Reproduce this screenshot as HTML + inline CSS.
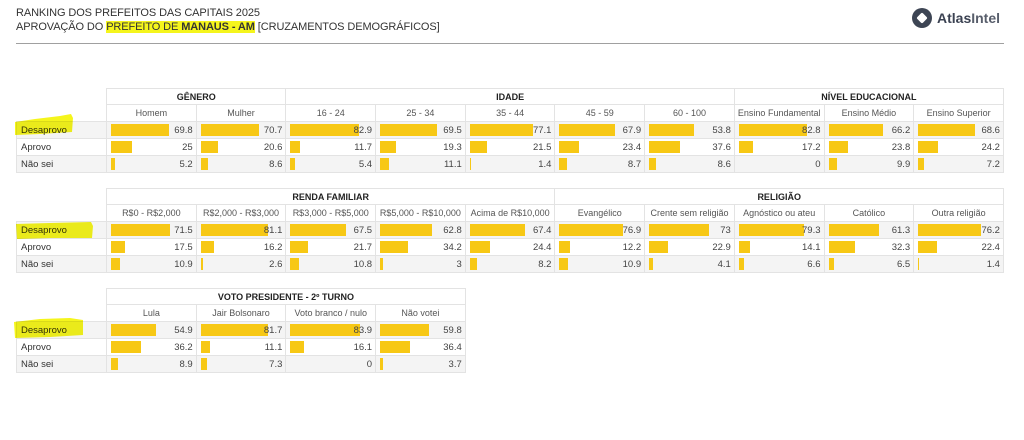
<!DOCTYPE html>
<html>
<head>
<meta charset="utf-8">
<style>
html,body{margin:0;padding:0;}
body{width:1024px;height:440px;background:#fff;position:relative;overflow:hidden;font-family:"Liberation Sans",Arial,sans-serif;}
.title{position:absolute;left:16px;font-size:11px;color:#333;white-space:nowrap;line-height:14px;letter-spacing:-0.1px;}
.hl{background:#f5f51c;}
.rule{position:absolute;left:16px;top:43px;width:988px;height:1px;background:#a0a0a0;}
.logo{position:absolute;left:911px;top:7px;}
.logotext{position:absolute;left:937px;top:9px;font-size:14px;color:#3b4252;white-space:nowrap;line-height:18px;}
table.t{position:absolute;left:16px;border-collapse:collapse;table-layout:fixed;}
table.t td{border:1px solid #e3e3e3;padding:0;position:relative;font-size:9.5px;color:#444;white-space:nowrap;overflow:hidden;}
table.t td.e{border:none;background:#fff;}
tr.g td{font-weight:bold;font-size:9px;color:#222;text-align:center;}
tr.s td{text-align:center;font-size:9px;color:#555;}
td.v{text-align:right;padding-right:3px !important;}
td.v i{position:absolute;left:4px;top:2px;height:12px;background:#f7c815;}
td.v span{position:relative;}
td.lab{text-align:left;padding-left:4px !important;color:#333 !important;}
tr.r1 td,tr.r3 td{background:#f4f4f4;}
tr.r2 td{background:#fff;}
.marks{position:absolute;left:0;top:0;mix-blend-mode:multiply;}
</style>
</head>
<body>
<div class="title" style="top:6px;">RANKING DOS PREFEITOS DAS CAPITAIS 2025</div>
<div class="title" style="top:20px;">APROVAÇÃO DO <span class="hl">PREFEITO DE <b>MANAUS - AM</b></span> [CRUZAMENTOS DEMOGRÁFICOS]</div>
<div class="rule"></div>
<svg class="logo" width="24" height="24" viewBox="0 0 24 24">
<circle cx="11" cy="11" r="10" fill="#3d4554"/>
<rect x="7" y="7" width="8" height="8" rx="1.5" fill="#fff" transform="rotate(45 11 11)"/>
</svg>
<div class="logotext"><b>Atlas</b><span style="font-weight:bold;opacity:.85">Intel</span></div>

<!-- TABLE 1 -->
<table class="t" style="top:88px;width:987px;">
<colgroup><col style="width:90px"><col style="width:89.7px"><col style="width:89.7px"><col style="width:89.7px"><col style="width:89.7px"><col style="width:89.7px"><col style="width:89.7px"><col style="width:89.7px"><col style="width:89.7px"><col style="width:89.7px"><col style="width:89.7px"></colgroup>
<tr class="g" style="height:16px"><td class="e" rowspan="2"></td><td colspan="2">GÊNERO</td><td colspan="5">IDADE</td><td colspan="3">NÍVEL EDUCACIONAL</td></tr>
<tr class="s" style="height:17px"><td>Homem</td><td>Mulher</td><td>16 - 24</td><td>25 - 34</td><td>35 - 44</td><td>45 - 59</td><td>60 - 100</td><td>Ensino Fundamental</td><td>Ensino Médio</td><td>Ensino Superior</td></tr>
<tr class="r1" style="height:17px"><td class="lab">Desaprovo</td>
<td class="v"><i style="width:57.6px"></i><span>69.8</span></td>
<td class="v"><i style="width:58.3px"></i><span>70.7</span></td>
<td class="v"><i style="width:68.4px"></i><span>82.9</span></td>
<td class="v"><i style="width:57.3px"></i><span>69.5</span></td>
<td class="v"><i style="width:63.6px"></i><span>77.1</span></td>
<td class="v"><i style="width:56px"></i><span>67.9</span></td>
<td class="v"><i style="width:44.4px"></i><span>53.8</span></td>
<td class="v"><i style="width:68.3px"></i><span>82.8</span></td>
<td class="v"><i style="width:54.6px"></i><span>66.2</span></td>
<td class="v"><i style="width:56.6px"></i><span>68.6</span></td></tr>
<tr class="r2" style="height:17px"><td class="lab">Aprovo</td>
<td class="v"><i style="width:20.6px"></i><span>25</span></td>
<td class="v"><i style="width:17px"></i><span>20.6</span></td>
<td class="v"><i style="width:9.7px"></i><span>11.7</span></td>
<td class="v"><i style="width:15.9px"></i><span>19.3</span></td>
<td class="v"><i style="width:17.7px"></i><span>21.5</span></td>
<td class="v"><i style="width:19.3px"></i><span>23.4</span></td>
<td class="v"><i style="width:31px"></i><span>37.6</span></td>
<td class="v"><i style="width:14.2px"></i><span>17.2</span></td>
<td class="v"><i style="width:19.6px"></i><span>23.8</span></td>
<td class="v"><i style="width:20px"></i><span>24.2</span></td></tr>
<tr class="r3" style="height:17px"><td class="lab">Não sei</td>
<td class="v"><i style="width:4.3px"></i><span>5.2</span></td>
<td class="v"><i style="width:7.1px"></i><span>8.6</span></td>
<td class="v"><i style="width:4.5px"></i><span>5.4</span></td>
<td class="v"><i style="width:9.2px"></i><span>11.1</span></td>
<td class="v"><i style="width:1.2px"></i><span>1.4</span></td>
<td class="v"><i style="width:7.2px"></i><span>8.7</span></td>
<td class="v"><i style="width:7.1px"></i><span>8.6</span></td>
<td class="v"><span>0</span></td>
<td class="v"><i style="width:8.2px"></i><span>9.9</span></td>
<td class="v"><i style="width:5.9px"></i><span>7.2</span></td></tr>
</table>

<!-- TABLE 2 -->
<table class="t" style="top:188px;width:987px;">
<colgroup><col style="width:90px"><col style="width:89.7px"><col style="width:89.7px"><col style="width:89.7px"><col style="width:89.7px"><col style="width:89.7px"><col style="width:89.7px"><col style="width:89.7px"><col style="width:89.7px"><col style="width:89.7px"><col style="width:89.7px"></colgroup>
<tr class="g" style="height:16px"><td class="e" rowspan="2"></td><td colspan="5">RENDA FAMILIAR</td><td colspan="5">RELIGIÃO</td></tr>
<tr class="s" style="height:17px"><td>R$0 - R$2,000</td><td>R$2,000 - R$3,000</td><td>R$3,000 - R$5,000</td><td>R$5,000 - R$10,000</td><td>Acima de R$10,000</td><td>Evangélico</td><td>Crente sem religião</td><td>Agnóstico ou ateu</td><td>Católico</td><td>Outra religião</td></tr>
<tr class="r1" style="height:17px"><td class="lab">Desaprovo</td>
<td class="v"><i style="width:59px"></i><span>71.5</span></td>
<td class="v"><i style="width:66.9px"></i><span>81.1</span></td>
<td class="v"><i style="width:55.7px"></i><span>67.5</span></td>
<td class="v"><i style="width:51.8px"></i><span>62.8</span></td>
<td class="v"><i style="width:55.6px"></i><span>67.4</span></td>
<td class="v"><i style="width:63.4px"></i><span>76.9</span></td>
<td class="v"><i style="width:60.2px"></i><span>73</span></td>
<td class="v"><i style="width:65.4px"></i><span>79.3</span></td>
<td class="v"><i style="width:50.6px"></i><span>61.3</span></td>
<td class="v"><i style="width:62.9px"></i><span>76.2</span></td></tr>
<tr class="r2" style="height:17px"><td class="lab">Aprovo</td>
<td class="v"><i style="width:14.4px"></i><span>17.5</span></td>
<td class="v"><i style="width:13.4px"></i><span>16.2</span></td>
<td class="v"><i style="width:17.9px"></i><span>21.7</span></td>
<td class="v"><i style="width:28.2px"></i><span>34.2</span></td>
<td class="v"><i style="width:20.1px"></i><span>24.4</span></td>
<td class="v"><i style="width:10.1px"></i><span>12.2</span></td>
<td class="v"><i style="width:18.9px"></i><span>22.9</span></td>
<td class="v"><i style="width:11.6px"></i><span>14.1</span></td>
<td class="v"><i style="width:26.6px"></i><span>32.3</span></td>
<td class="v"><i style="width:18.5px"></i><span>22.4</span></td></tr>
<tr class="r3" style="height:17px"><td class="lab">Não sei</td>
<td class="v"><i style="width:9px"></i><span>10.9</span></td>
<td class="v"><i style="width:2.1px"></i><span>2.6</span></td>
<td class="v"><i style="width:8.9px"></i><span>10.8</span></td>
<td class="v"><i style="width:2.5px"></i><span>3</span></td>
<td class="v"><i style="width:6.8px"></i><span>8.2</span></td>
<td class="v"><i style="width:9px"></i><span>10.9</span></td>
<td class="v"><i style="width:3.4px"></i><span>4.1</span></td>
<td class="v"><i style="width:5.4px"></i><span>6.6</span></td>
<td class="v"><i style="width:5.4px"></i><span>6.5</span></td>
<td class="v"><i style="width:1.2px"></i><span>1.4</span></td></tr>
</table>

<!-- TABLE 3 -->
<table class="t" style="top:288px;width:448.8px;">
<colgroup><col style="width:90px"><col style="width:89.7px"><col style="width:89.7px"><col style="width:89.7px"><col style="width:89.7px"></colgroup>
<tr class="g" style="height:16px"><td class="e" rowspan="2"></td><td colspan="4">VOTO PRESIDENTE - 2º TURNO</td></tr>
<tr class="s" style="height:17px"><td>Lula</td><td>Jair Bolsonaro</td><td>Voto branco / nulo</td><td>Não votei</td></tr>
<tr class="r1" style="height:17px"><td class="lab">Desaprovo</td>
<td class="v"><i style="width:45.3px"></i><span>54.9</span></td>
<td class="v"><i style="width:67.4px"></i><span>81.7</span></td>
<td class="v"><i style="width:69.2px"></i><span>83.9</span></td>
<td class="v"><i style="width:49.3px"></i><span>59.8</span></td></tr>
<tr class="r2" style="height:17px"><td class="lab">Aprovo</td>
<td class="v"><i style="width:29.9px"></i><span>36.2</span></td>
<td class="v"><i style="width:9.2px"></i><span>11.1</span></td>
<td class="v"><i style="width:13.3px"></i><span>16.1</span></td>
<td class="v"><i style="width:30px"></i><span>36.4</span></td></tr>
<tr class="r3" style="height:17px"><td class="lab">Não sei</td>
<td class="v"><i style="width:7.3px"></i><span>8.9</span></td>
<td class="v"><i style="width:6px"></i><span>7.3</span></td>
<td class="v"><span>0</span></td>
<td class="v"><i style="width:3.1px"></i><span>3.7</span></td></tr>
</table>

<svg class="marks" width="1024" height="440">
<polygon points="15,122 35,119 60,116 71,114 73,118 72,132 40,134 15,135" fill="#f5f51c"/>
<polygon points="16,224 50,223 91,222 93,226 92,238 50,238 17,239" fill="#f5f51c"/>
<polygon points="14,322 40,319 70,318 83,320 83,335 50,337 15,338" fill="#f5f51c"/>
</svg>
</body>
</html>
